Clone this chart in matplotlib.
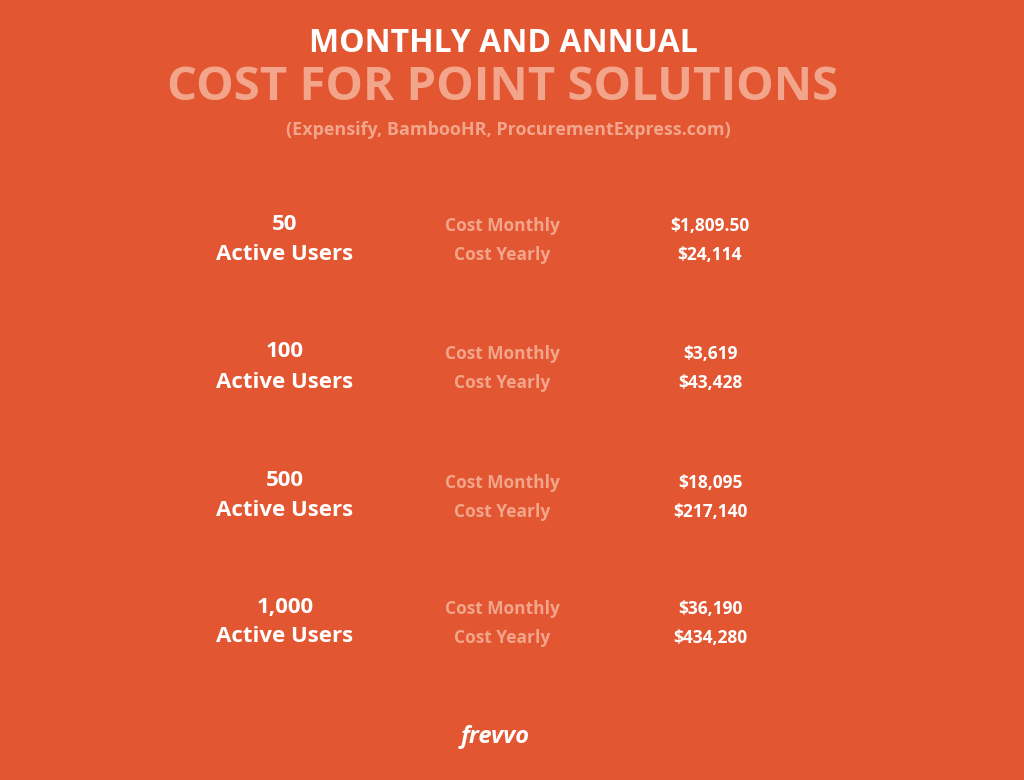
import matplotlib
matplotlib.use("Agg")
import matplotlib.pyplot as plt

users = ["50", "100", "500", "1,000"]
monthly = ["$1,809.50", "$3,619", "$18,095", "$36,190"]
yearly = ["$24,114", "$43,428", "$217,140", "$434,280"]

BG = "#E35632"
FADE = "#F2A58A"
W, H = 1024, 780
fig = plt.figure(figsize=(W/100, H/100), dpi=100, facecolor=BG)
FONT = "Open Sans"

def t(x, y, s, size, color="white", weight="bold", **kw):
    fig.text(x/W, 1 - y/H, s, fontsize=size, color=color, fontweight=weight,
             family=FONT, ha="center", va="center", **kw)

t(503, 44, "MONTHLY AND ANNUAL", 23)
t(503, 88, "COST FOR POINT SOLUTIONS", 34, color=FADE)
t(508, 130, "(Expensify, BambooHR, ProcurementExpress.com)", 13, color=FADE)

row_y = [224, 352, 481, 607]
for y, u, m, yr in zip(row_y, users, monthly, yearly):
    t(285, y, u, 16)
    t(285, y + 30, "Active Users", 16)
    t(502, y + 2, "Cost Monthly", 12.5, color=FADE)
    t(502, y + 31, "Cost Yearly", 12.5, color=FADE)
    t(710, y + 2, m, 12.5)
    t(710, y + 31, yr, 12.5)

t(495, 737, "frevvo", 17, style="italic")

fig.savefig("out.png", dpi=100, facecolor=BG)
